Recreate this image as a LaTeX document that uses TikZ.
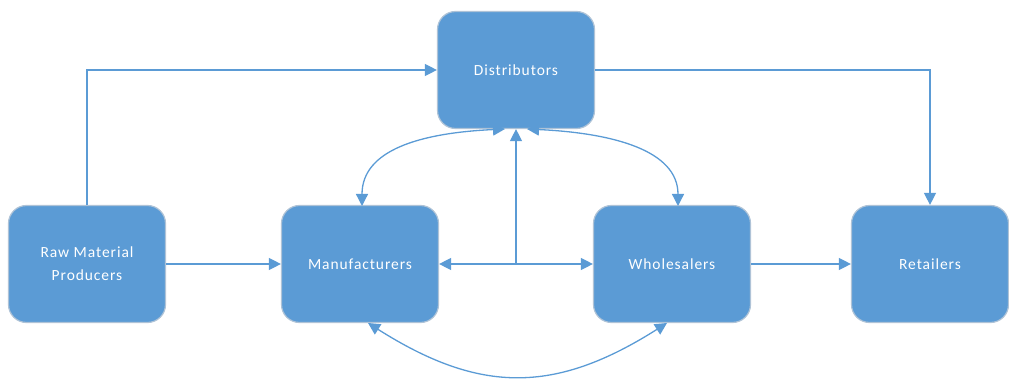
\documentclass[tikz,border=0pt]{standalone}
\usepackage{fontspec}
\setmainfont{Carlito}[LetterSpace=6]
\usetikzlibrary{arrows.meta}
\definecolor{boxblue}{RGB}{91,155,213}
\definecolor{boxedge}{RGB}{175,195,215}
\definecolor{linkblue}{RGB}{91,155,213}
\begin{document}
\begin{tikzpicture}[x=1pt,y=1pt,
  stage/.style={draw=boxedge, line width=1.2pt, fill=boxblue, rounded corners=18pt,
    minimum width=157pt, minimum height=117pt, inner sep=0pt,
    text=white, align=center, font=\fontsize{15.5}{23}\selectfont},
  link/.style={draw=linkblue, line width=1.3pt, -{Triangle[length=12pt,width=12pt]}},
  dlink/.style={draw=linkblue, line width=1.3pt, {Triangle[length=12pt,width=12pt]}-{Triangle[length=12pt,width=12pt]}}]
\useasboundingbox (0,0) rectangle (1009,-379);
\node[stage] (raw) at (87,-264) {Raw Material\\Producers};
\node[stage] (man) at (360,-264) {Manufacturers};
\node[stage] (who) at (672,-264) {Wholesalers};
\node[stage] (ret) at (930,-264) {Retailers};
\node[stage] (dis) at (516,-70) {Distributors};
\coordinate (mid) at (516,-264);
\coordinate (dl) at (505,-129);
\coordinate (dr) at (527,-129);
\coordinate (mt) at (362,-206);
\coordinate (wt) at (678,-206);
\coordinate (mb) at (368,-323);
\coordinate (wb) at (667,-323);
\draw[link] (raw.north) -- (raw.north |- dis.west) -- (dis.west);
\draw[link] (dis.east) -- (ret.north |- dis.east) -- (ret.north);
\draw[link] (raw.east) -- (man.west);
\draw[link] (who.east) -- (ret.west);
\draw[dlink] (man.east) -- (who.west);
\draw[link] (mid) -- (dis.south);
\draw[dlink] (dl) .. controls (420,-133) and (362,-150) .. (mt);
\draw[dlink] (dr) .. controls (612,-133) and (678,-150) .. (wt);
\draw[dlink] (mb) .. controls (480,-394) and (555,-394) .. (wb);
\end{tikzpicture}
\end{document}
